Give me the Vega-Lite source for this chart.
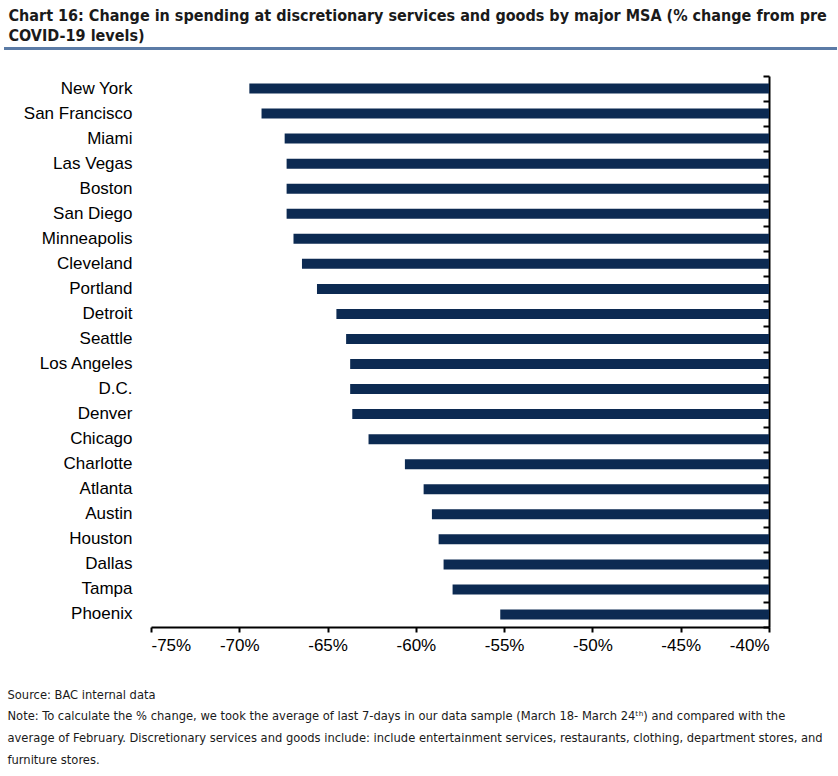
{
  "$schema": "https://vega.github.io/schema/vega-lite/v6.json",
  "padding": {"left": 2, "top": 8, "right": 2, "bottom": 5},
  "background": "white",
  "title": {
    "text": ["Chart 16: Change in spending at discretionary services and goods by major MSA (% change from pre", "COVID-19 levels)"],
    "anchor": "start",
    "font": "DejaVu Sans Condensed",
    "fontSize": 16,
    "fontWeight": "bold",
    "color": "#1a1a1a",
    "lineHeight": 20,
    "offset": 3,
    "dx": 6
  },
  "config": {
    "view": {"stroke": null},
    "font": "Liberation Sans"
  },
  "spacing": 25,
  "vconcat": [
    {
      "width": 618,
      "height": 3,
      "data": {"values": [{"start": -147, "end": 686, "level": 0.5}]},
      "mark": {"type": "rule", "color": "#5b7ba6", "strokeWidth": 3},
      "encoding": {
        "x": {"field": "start", "type": "quantitative", "scale": {"domain": [0, 618]}, "axis": null},
        "x2": {"field": "end"},
        "y": {"field": "level", "type": "quantitative", "scale": {"domain": [0, 1]}, "axis": null}
      }
    },
    {
      "width": 618,
      "height": 551,
      "data": {
        "values": [
          {"msa": "New York", "change": -69.43},
          {"msa": "San Francisco", "change": -68.74},
          {"msa": "Miami", "change": -67.43},
          {"msa": "Las Vegas", "change": -67.32},
          {"msa": "Boston", "change": -67.32},
          {"msa": "San Diego", "change": -67.32},
          {"msa": "Minneapolis", "change": -66.93},
          {"msa": "Cleveland", "change": -66.45},
          {"msa": "Portland", "change": -65.6},
          {"msa": "Detroit", "change": -64.5},
          {"msa": "Seattle", "change": -63.95},
          {"msa": "Los Angeles", "change": -63.72},
          {"msa": "D.C.", "change": -63.72},
          {"msa": "Denver", "change": -63.6},
          {"msa": "Chicago", "change": -62.68},
          {"msa": "Charlotte", "change": -60.62},
          {"msa": "Atlanta", "change": -59.56},
          {"msa": "Austin", "change": -59.09},
          {"msa": "Houston", "change": -58.71},
          {"msa": "Dallas", "change": -58.43},
          {"msa": "Tampa", "change": -57.92},
          {"msa": "Phoenix", "change": -55.22}
        ]
      },
      "encoding": {
        "y": {
          "field": "msa",
          "type": "nominal",
          "sort": null,
          "scale": {"paddingInner": 0, "paddingOuter": 0}
        },
        "x": {
          "field": "change",
          "type": "quantitative",
          "scale": {"domain": [-75, -40], "nice": false, "zero": false},
          "axis": {
            "values": [-75, -70, -65, -60, -55, -50, -45, -40],
            "labelExpr": "datum.value + '%'",
            "grid": false,
            "domainColor": "#000000",
            "domainWidth": 2,
            "tickColor": "#000000",
            "tickWidth": 2,
            "tickSize": 5,
            "labelFont": "Liberation Sans",
            "labelFontSize": 17,
            "labelColor": "#000000",
            "labelPadding": 5,
            "title": [
              "Source: BAC internal data",
              "Note: To calculate the % change, we took the average of last 7-days in our data sample (March 18- March 24ᵗʰ) and compared with the",
              "average of February. Discretionary services and goods include:  include entertainment services, restaurants, clothing, department stores, and",
              "furniture stores."
            ],
            "titleFont": "DejaVu Sans Condensed",
            "titleFontSize": 12.8,
            "titleFontWeight": "normal",
            "titleColor": "#1a1a1a",
            "titleAnchor": "start",
            "titleAlign": "left",
            "titleBaseline": "alphabetic",
            "titleLineHeight": 21.7,
            "titleX": -144,
            "titleY": 71
          }
        },
        "x2": {"datum": -40}
      },
      "layer": [
        {
          "mark": {"type": "bar", "color": "#0c2a52", "height": {"band": 0.4}},
          "encoding": {
            "y": {
              "field": "msa",
              "type": "nominal",
              "sort": null,
              "title": null,
              "axis": {
                "orient": "left",
                "domain": false,
                "ticks": false,
                "labelFont": "Liberation Sans",
                "labelFontSize": 17,
                "labelColor": "#000000",
                "labelPadding": 19
              }
            }
          }
        },
        {
          "mark": {"type": "bar", "opacity": 0, "height": {"band": 0.4}},
          "encoding": {
            "y": {
              "field": "msa",
              "type": "nominal",
              "sort": null,
              "title": null,
              "axis": {
                "orient": "right",
                "labels": false,
                "domain": true,
                "domainColor": "#000000",
                "domainWidth": 2,
                "ticks": true,
                "tickBand": "extent",
                "tickColor": "#000000",
                "tickWidth": 2,
                "tickSize": -6
              }
            }
          }
        }
      ],
      "resolve": {"axis": {"y": "independent"}}
    }
  ]
}
